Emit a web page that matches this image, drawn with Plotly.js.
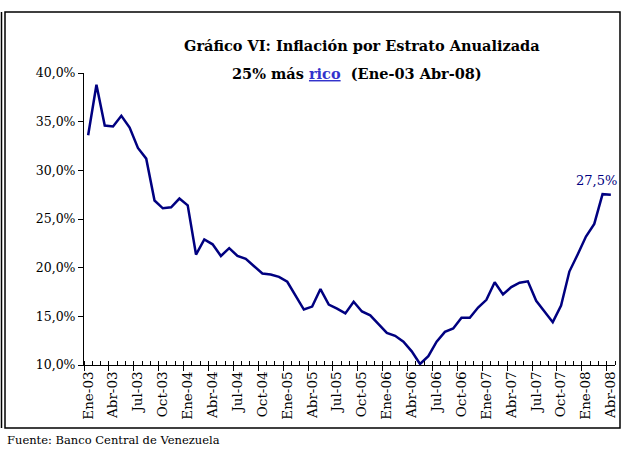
<!DOCTYPE html>
<html>
<head>
<meta charset="utf-8">
<script src="https://cdn.plot.ly/plotly-3.0.1.min.js"></script>
<style>html,body{margin:0;padding:0;background:#fff;}#chart{width:621px;height:455px;}</style>
</head>
<body>
<div id="chart"></div>
<script>
// Monthly periods Ene-03 .. Abr-08
const months = ["Ene","Feb","Mar","Abr","May","Jun","Jul","Ago","Sep","Oct","Nov","Dic"];
const years = ["03","04","05","06","07","08"];
const categories = [];
for (const y of years) for (const m of months) { if (categories.length < 64) categories.push(m + "-" + y); }

// Annualized inflation, richest 25% (%)
const inflation = [
  33.6, 38.8, 34.6, 34.5, 35.6, 34.4, 32.3, 31.2, 26.9, 26.1, 26.2, 27.1,
  26.4, 21.35, 22.9, 22.4, 21.2, 22.0, 21.2, 20.9, 20.15, 19.4, 19.3, 19.05,
  18.55, 17.1, 15.7, 16.0, 17.8, 16.2, 15.8, 15.3, 16.5, 15.5, 15.1, 14.2,
  13.3, 13.0, 12.4, 11.4, 10.1, 10.9, 12.4, 13.4, 13.75, 14.85, 14.85, 15.9,
  16.7, 18.5, 17.25, 18.0, 18.45, 18.6, 16.6, 15.5, 14.4, 16.1, 19.6, 21.35,
  23.2, 24.5, 27.55, 27.5
];

const tickLabels = ["Ene-03","Abr-03","Jul-03","Oct-03","Ene-04","Abr-04","Jul-04","Oct-04",
  "Ene-05","Abr-05","Jul-05","Oct-05","Ene-06","Abr-06","Jul-06","Oct-06",
  "Ene-07","Abr-07","Jul-07","Oct-07","Ene-08","Abr-08"];
const tickPositions = tickLabels.map(l => categories.indexOf(l));
const lastLabel = "27,5%";

const W = 621, H = 455;
const M = {l: 84, r: 6, t: 73, b: 90};
const pw = W - M.l - M.r, ph = H - M.t - M.b;
const px = x => (x - M.l) / pw;
const py = y => (H - M.b - y) / ph;

const xIdx = categories.map((_, i) => i);
const font = "DejaVu Serif, serif";

const trace = {
  x: xIdx, y: inflation, type: "scatter", mode: "lines",
  line: {color: "#000080", width: 2.5}, hoverinfo: "skip", showlegend: false
};
const tickTrace = {
  x: [0], y: [null], xaxis: "x2", yaxis: "y", type: "scatter", mode: "lines", showlegend: false, hoverinfo: "skip"
};

const layout = {
  width: W, height: H,
  margin: M,
  paper_bgcolor: "#fff", plot_bgcolor: "#fff",
  separators: ",.",
  showlegend: false,
  font: {family: font, size: 12, color: "#000"},
  xaxis: {
    range: [-0.5, 63.5], showgrid: false, zeroline: false,
    showline: true, linecolor: "#000", linewidth: 1,
    tickmode: "array", tickvals: tickPositions, ticktext: tickLabels,
    ticks: "", tickangle: -90, tickfont: {family: font, size: 13.5, color: "#000"},
    minor: {tick0: -0.5, dtick: 1, ticks: "inside", ticklen: 4, tickcolor: "#000", tickwidth: 1, showgrid: false}
  },
  xaxis2: {
    overlaying: "x", range: [-0.5, 63.5], showgrid: false, zeroline: false, showline: false,
    tickmode: "linear", tick0: -0.5, dtick: 3, ticks: "outside", ticklen: 5, tickcolor: "#000",
    showticklabels: false, side: "bottom", anchor: "y"
  },
  yaxis: {
    range: [10, 40], dtick: 5, tick0: 10, showgrid: false, zeroline: false,
    showline: true, linecolor: "#000", linewidth: 1,
    ticks: "outside", ticklen: 5, tickcolor: "#000",
    tickformat: ".1f", ticksuffix: "%", tickfont: {family: font, size: 12.5, color: "#000"}
  },
  annotations: [
    {xref: "paper", yref: "paper", x: px(362), y: py(45), text: "<b>Gráfico VI: Inflación por Estrato Anualizada</b>",
     showarrow: false, xanchor: "center", yanchor: "middle", font: {family: font, size: 14.5, color: "#000"}},
    {xref: "paper", yref: "paper", x: px(357), y: py(73),
     text: "<b>25% más <span style='color:#3333cc;text-decoration:underline'>rico</span>  (Ene-03 Abr-08)</b>",
     showarrow: false, xanchor: "center", yanchor: "middle", font: {family: font, size: 14.5, color: "#000"}},
    {xref: "x", yref: "y", x: 63, y: inflation[63], text: lastLabel, showarrow: false,
     xanchor: "right", yanchor: "bottom", xshift: 8, yshift: 5, font: {family: font, size: 13, color: "#000080"}},
    {xref: "paper", yref: "paper", x: px(5), y: py(440), text: "Fuente: Banco Central de Venezuela",
     showarrow: false, xanchor: "left", yanchor: "middle", font: {family: font, size: 11.5, color: "#000"}}
  ],
  shapes: [
    {type: "rect", xref: "paper", yref: "paper", x0: px(5), x1: px(620), y0: py(12), y1: py(428),
     line: {color: "#000", width: 1.5}, fillcolor: "rgba(0,0,0,0)", layer: "below"},
    {type: "line", xref: "paper", yref: "paper", x0: px(1.5), x1: px(1.5), y0: py(12), y1: py(428),
     line: {color: "#000", width: 1.5}}
  ]
};

Plotly.newPlot("chart", [trace, tickTrace], layout, {staticPlot: true, displayModeBar: false});
</script>
</body>
</html>
